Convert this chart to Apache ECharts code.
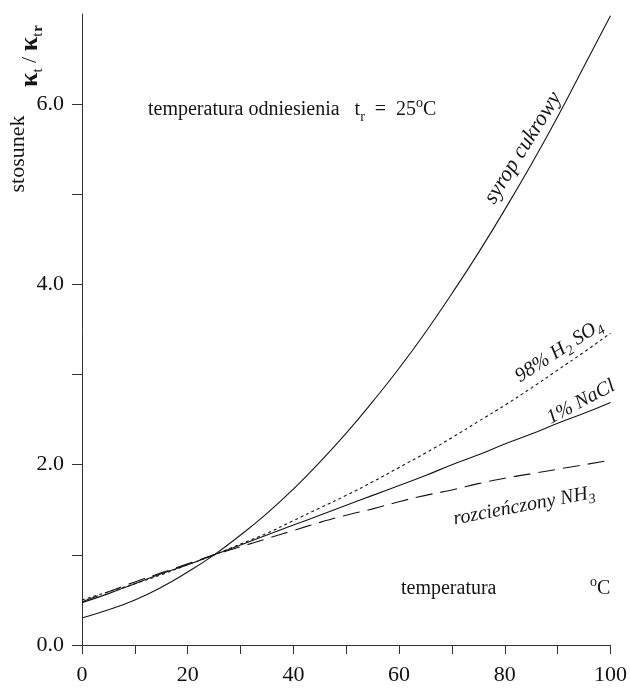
<!DOCTYPE html>
<html>
<head>
<meta charset="utf-8">
<script src="https://cdn.jsdelivr.net/npm/echarts@6/dist/echarts.min.js"></script>
<style>
html,body{margin:0;padding:0;background:#fff;}
#chart{width:630px;height:691px;}
</style>
</head>
<body>
<div id="chart"></div>
<script>
// Temperature (°C)
const temps = [0,5,10,15,20,25,30,35,40,45,50,55,60,65,70,75,80,85,90,95,100];
// ratio kappa_t / kappa_tr
const syrop = [0.30,0.39,0.50,0.64,0.81,1.00,1.22,1.46,1.73,2.03,2.35,2.70,3.07,3.47,3.90,4.35,4.83,5.33,5.86,6.42,6.98];
const h2so4 = [0.50,0.59,0.68,0.78,0.89,1.00,1.12,1.24,1.38,1.52,1.66,1.81,1.97,2.13,2.30,2.48,2.66,2.85,3.05,3.25,3.46];
const nacl  = [0.47,0.57,0.68,0.79,0.89,1.00,1.11,1.22,1.33,1.44,1.55,1.66,1.77,1.88,2.00,2.11,2.23,2.34,2.46,2.57,2.69];
const nh3   = [0.48,0.59,0.70,0.80,0.90,1.00,1.09,1.18,1.27,1.36,1.44,1.51,1.59,1.66,1.72,1.79,1.85,1.90,1.95,2.00,2.05];
const xTicks = [0,10,20,30,40,50,60,70,80,90,100];
const xLabels = [0,20,40,60,80,100];
const yTicks = [0,1,2,3,4,5,6];
const yLabels = [0,2,4,6];

const FONT = "'Liberation Serif', 'Times New Roman', serif";
const INK = '#151515';
const pairs = arr => temps.map((t,i)=>[t,arr[i]]);
const deg = d => d*Math.PI/180;

const chart = echarts.init(document.getElementById('chart'), null, {renderer:'canvas'});

function lineSeries(name, arr, type, dash){
  return {
    name, type:'line', data:pairs(arr), smooth:true, showSymbol:false, silent:true,
    lineStyle:{color:INK, width:1.1, type: dash ? dash : type},
    z:3
  };
}

const annoFont = {fontFamily:FONT, fontSize:20, fill:INK};
const italic = Object.assign({}, annoFont, {fontStyle:'italic'});
const subRich = {
  n:{fontFamily:FONT, fontStyle:'italic', fontSize:20, lineHeight:26, fill:INK},
  s:{fontFamily:FONT, fontStyle:'italic', fontSize:14, lineHeight:14, verticalAlign:'bottom', fill:INK}
};

chart.setOption({
  animation:false,
  backgroundColor:'#fff',
  grid:{left:82, right:16, top:14, bottom:46, containLabel:false},
  xAxis:{
    type:'value', min:0, max:100, interval:10,
    axisLine:{show:true, lineStyle:{color:'#333', width:1}},
    axisTick:{show:true, length:9, inside:false, customValues:xTicks, lineStyle:{color:'#333'}},
    axisLabel:{customValues:xLabels, margin:19, fontFamily:FONT, fontSize:22, color:'#111'},
    splitLine:{show:false}
  },
  yAxis:{
    type:'value', min:0, max:7, interval:1,
    axisLine:{show:true, lineStyle:{color:'#333', width:1}},
    axisTick:{show:true, length:10, customValues:yTicks, lineStyle:{color:'#333'}},
    axisLabel:{customValues:yLabels, margin:18, fontFamily:FONT, fontSize:22, color:'#111',
      formatter: v => v.toFixed(1)},
    splitLine:{show:false}
  },
  series:[
    lineSeries('syrop cukrowy', syrop, 'solid'),
    lineSeries('98% H2SO4', h2so4, 'dashed', [3,3]),
    lineSeries('1% NaCl', nacl, 'solid'),
    lineSeries('rozcieńczony NH3', nh3, 'dashed', [17,8])
  ],
  graphic:[
    // y axis title
    {type:'text', x:18, y:154, rotation:deg(90),
      style:Object.assign({}, annoFont, {text:'stosunek', fontSize:22, align:'center', verticalAlign:'middle'})},
    {type:'text', x:30, y:56, rotation:deg(90),
      style:{text:'{k|κ}{s|t}{n| / }{k|κ}{s|t}{g| }{r|r}', align:'center', verticalAlign:'middle',
        fill:INK, fontFamily:FONT,
        rich:{
          k:{fontFamily:FONT, fontSize:26, fontWeight:'bold', lineHeight:32, fill:INK},
          n:{fontFamily:FONT, fontSize:22, lineHeight:32, fill:INK},
          g:{fontFamily:FONT, fontSize:4, lineHeight:32, fill:INK},
          s:{fontFamily:FONT, fontSize:15, lineHeight:22, verticalAlign:'bottom', fill:INK},
          r:{fontFamily:FONT, fontSize:15, fontWeight:'bold', lineHeight:10, verticalAlign:'bottom', fill:INK}
        }}},
    // reference temperature note
    {type:'text', x:148, y:110,
      style:{text:'{n|temperatura odniesienia   t}{s|r}{n|  =  25}{p|o}{n|C}', align:'left', verticalAlign:'middle',
        fill:INK, fontFamily:FONT,
        rich:{
          n:{fontFamily:FONT, fontSize:20, lineHeight:28, fill:INK},
          s:{fontFamily:FONT, fontSize:14, lineHeight:14, verticalAlign:'bottom', fill:INK},
          p:{fontFamily:FONT, fontSize:14, lineHeight:20, verticalAlign:'top', fill:INK}
        }}},
    // x-axis title
    {type:'text', x:401, y:589, style:Object.assign({}, annoFont, {text:'temperatura', align:'left', verticalAlign:'middle'})},
    {type:'text', x:590, y:589,
      style:{text:'{p|o}{n|C}', align:'left', verticalAlign:'middle', fill:INK,
        rich:{
          n:{fontFamily:FONT, fontSize:20, lineHeight:28, fill:INK},
          p:{fontFamily:FONT, fontSize:14, lineHeight:20, verticalAlign:'top', fill:INK}
        }}},
    // curve labels
    {type:'text', x:523, y:148, rotation:deg(58),
      style:Object.assign({}, italic, {text:'syrop cukrowy', fontSize:22, align:'center', verticalAlign:'middle'})},
    {type:'text', x:559, y:351, rotation:deg(33),
      style:{text:'{n|98% H}{s|2}{n| SO}{s|4}', align:'center', verticalAlign:'middle', fill:INK, rich:subRich}},
    {type:'text', x:581, y:402, rotation:deg(28),
      style:Object.assign({}, italic, {text:'1% NaCl', align:'center', verticalAlign:'middle'})},
    {type:'text', x:524, y:506, rotation:deg(10.7),
      style:{text:'{n|rozcieńczony NH}{s|3}', align:'center', verticalAlign:'middle', fill:INK, rich:subRich}}
  ]
});
</script>
</body>
</html>
